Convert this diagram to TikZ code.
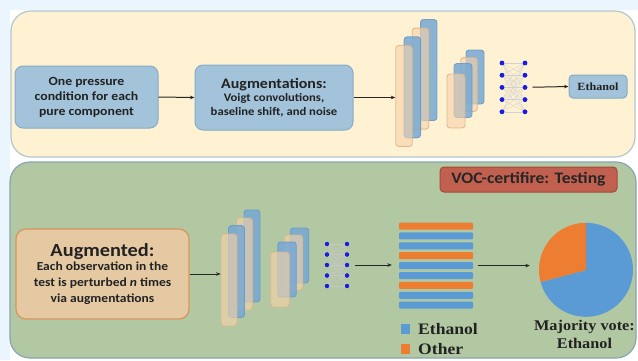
\documentclass[tikz,border=0pt]{standalone}
\usepackage{fontspec}
\setmainfont[FakeStretch=1.1]{Liberation Serif}
\newfontfamily\carlito[FakeStretch=1.1]{Carlito}
\usetikzlibrary{arrows.meta}

\definecolor{bgblue}{HTML}{EAF5FD}
\definecolor{panelY}{HTML}{FEF2D2}
\definecolor{panelYline}{HTML}{B4C6CC}
\definecolor{panelG}{HTML}{B2C8A2}
\definecolor{panelGline}{HTML}{86A4B4}
\definecolor{boxblue}{HTML}{A3C3DA}
\definecolor{boxblueline}{HTML}{86ACC8}
\definecolor{augfill}{HTML}{E5C9A3}
\definecolor{augline}{HTML}{D8955A}
\definecolor{vocfill}{HTML}{C2604F}
\definecolor{vocline}{HTML}{A04A3A}
\definecolor{lyrOfill}{HTML}{F8D2AA}
\definecolor{lyrOline}{HTML}{DDB48C}
\definecolor{lyrBfill}{HTML}{76A8D4}
\definecolor{lyrBline}{HTML}{6A9AC6}
\definecolor{dotblue}{HTML}{1A1AE6}
\definecolor{barblue}{HTML}{5B9BD5}
\definecolor{barorange}{HTML}{ED7D31}
\definecolor{txt}{HTML}{222222}

\tikzset{
  x=1pt, y=-1pt,
  panel/.style={rounded corners=20pt, line width=1.2pt},
  bluebox/.style={draw=boxblueline, fill=boxblue, line width=1pt, rounded corners=8pt,
    align=center, text=txt, inner sep=0pt},
  lyrO/.style={draw=lyrOline, fill=lyrOfill, fill opacity=0.62, draw opacity=0.9,
    line width=0.9pt, rounded corners=3pt, inner sep=0pt},
  lyrB/.style={draw=lyrBline, fill=lyrBfill, fill opacity=0.85, draw opacity=0.9,
    line width=0.9pt, rounded corners=3pt, inner sep=0pt},
  neuron/.style={circle, fill=dotblue, inner sep=0pt, minimum size=4.6pt},
  bar/.style={rounded corners=1pt, inner sep=0pt, minimum width=74pt, minimum height=7pt},
  flow/.style={-{Stealth[length=4.5pt,width=3.6pt]}, line width=1pt, black!85},
  serifbold/.style={font=\bfseries\fontsize{16}{18}\selectfont, text=txt, inner sep=0pt},
}

\begin{document}
\begin{tikzpicture}
\useasboundingbox (0,0) rectangle (638,360);
% page background
\fill[bgblue] (0,0) rectangle (638,360);
\fill[white] (10,10) rectangle (638,360);

% training panel and testing panel
\draw[panel, fill=panelY, draw=panelYline] (11,11) rectangle (635,157);
\draw[panel, fill=panelG, draw=panelGline] (10,162) rectangle (636,358);

% ---------------- training row ----------------
\node[bluebox, minimum width=143pt, minimum height=62pt,
  font=\carlito\bfseries\fontsize{12.5}{15}\selectfont] (pure) at (86.5,97)
  {One pressure\\ condition for each\\ pure component};
\node[bluebox, minimum width=158pt, minimum height=65pt,
  font=\carlito\bfseries\fontsize{11.5}{14}\selectfont] (augm) at (274,97.5)
  {{\fontsize{14.5}{17}\selectfont Augmentations:}\\[-1pt]
   Voigt convolutions,\\ baseline shift, and noise};

% convolution stacks (back to front)
\node[lyrB, minimum width=16.5pt, minimum height=101pt] (a4) at (428.7,70) {};
\node[lyrO, minimum width=16.5pt, minimum height=101pt] (a3) at (420.5,78.6) {};
\node[lyrB, minimum width=16.5pt, minimum height=101pt] (a2) at (412.3,87.3) {};
\node[lyrO, minimum width=16.5pt, minimum height=101pt] (a1) at (404,96) {};
\node[lyrB, minimum width=18pt, minimum height=54pt] (b4) at (475,77) {};
\node[lyrO, minimum width=16.5pt, minimum height=54pt] (b3) at (469,84.5) {};
\node[lyrB, minimum width=18pt, minimum height=54pt] (b2) at (463,90.5) {};
\node[lyrO, minimum width=18pt, minimum height=54pt] (b1) at (456,101) {};

% dense layer
\foreach \i in {1,...,5}{
  \node[neuron] (tl\i) at (502,{63+12.2*(\i-1)}) {};
  \node[neuron] (tr\i) at (525,{63+12.2*(\i-1)}) {};
}
\foreach \i in {1,...,5}{\foreach \j in {1,...,5}{
  \draw[line width=0.3pt, draw=black!18] (tl\i) -- (tr\j);
}}
\foreach \i in {1,...,5}{ \node[neuron] at (tl\i) {}; \node[neuron] at (tr\i) {}; }

\node[bluebox, minimum width=58pt, minimum height=23pt, rounded corners=4pt,
  font=\rmfamily\bfseries\fontsize{11}{12}\selectfont] (eth) at (598,86.5) {Ethanol};

\draw[flow] (pure.east) -- (augm.west);
\draw[flow] (augm.east) -- (augm.east -| a1.west);
\draw[flow, shorten <=5pt] (tr3) -- (eth.west);

% ---------------- testing row ----------------
\node[draw=vocline, fill=vocfill, line width=1pt, rounded corners=4pt,
  minimum width=177pt, minimum height=25pt, inner sep=0pt, text=black!85,
  font=\carlito\bfseries\fontsize{16}{18}\selectfont] (voc) at (528.5,179.5)
  {VOC-certifire: Testing};

\node[draw=augline, fill=augfill, line width=1.2pt, rounded corners=10pt,
  minimum width=173pt, minimum height=90pt, inner sep=0pt, align=center, text=txt,
  font=\carlito\bfseries\fontsize{12.3}{16}\selectfont] (aug) at (102.5,274)
  {{\fontsize{18.5}{20}\selectfont Augmented:}\\[-1.5pt]
   Each observation in the\\
   test is perturbed \textit{n} times\\ via augmentations};

\node[lyrB, minimum width=16pt, minimum height=92pt] (c4) at (252,256) {};
\node[lyrO, minimum width=16pt, minimum height=92pt] (c3) at (244.5,264) {};
\node[lyrB, minimum width=16pt, minimum height=92pt] (c2) at (236.5,271.5) {};
\node[lyrO, minimum width=16pt, minimum height=92pt] (c1) at (229,280) {};
\node[lyrB, minimum width=18.5pt, minimum height=55pt] (d4) at (299.5,255.5) {};
\node[lyrO, minimum width=18.5pt, minimum height=55pt] (d3) at (293.5,262.5) {};
\node[lyrB, minimum width=18.5pt, minimum height=55pt] (d2) at (287,269.5) {};
\node[lyrO, minimum width=18.5pt, minimum height=55pt] (d1) at (280,279.5) {};

\foreach \i in {1,...,5}{
  \node[neuron, minimum size=4.2pt] (bl\i) at (327,{244+10.5*(\i-1)}) {};
  \node[neuron, minimum size=4.2pt] (br\i) at (347,{244+10.5*(\i-1)}) {};
}
\foreach \i in {1,...,5}{\foreach \j in {1,...,5}{
  \draw[line width=0.3pt, draw=black!22] (bl\i) -- (br\j);
}}
\foreach \i in {1,...,5}{ \node[neuron, minimum size=4.2pt] at (bl\i) {};
  \node[neuron, minimum size=4.2pt] at (br\i) {}; }

% predictions of the perturbed copies
\foreach \c [count=\k] in {barorange,barblue,barblue,barorange,barblue,barblue,barorange,barblue,barblue}{
  \node[bar, fill=\c] (bar\k) at (436,{226+9.9*(\k-1)}) {};
}

% legend
\node[fill=barblue, minimum size=9.5pt, inner sep=0pt] (lgb) at (405.5,329) {};
\node[fill=barorange, minimum size=9.5pt, inner sep=0pt] (lgo) at (405.5,349) {};
\node[serifbold, anchor=west] (lgbt) at (418,329.5) {Ethanol};
\node[serifbold, anchor=west] (lgot) at (418,349.5) {Other};

% majority vote pie
\node[circle, minimum size=94pt, inner sep=0pt] (pie) at (586,270) {};
\fill[barblue] (pie.center) -- (pie.north) arc[start angle=90, end angle=-165, radius=47pt] -- cycle;
\fill[barorange] (pie.center) -- (pie.north) arc[start angle=90, end angle=195, radius=47pt] -- cycle;
\node[serifbold, align=center, font=\bfseries\fontsize{14.8}{18}\selectfont]
  (vote) at (584.5,334) {Majority vote:\\ Ethanol};

\draw[flow] (aug.east) -- (aug.east -| c1.west);
\draw[flow, shorten <=6pt, shorten >=7pt] (br3) -- (br3 -| bar5.west);
\draw[flow, shorten <=5pt, shorten >=9pt] (bar5.east) -- (bar5.east -| pie.west);
\end{tikzpicture}
\end{document}
